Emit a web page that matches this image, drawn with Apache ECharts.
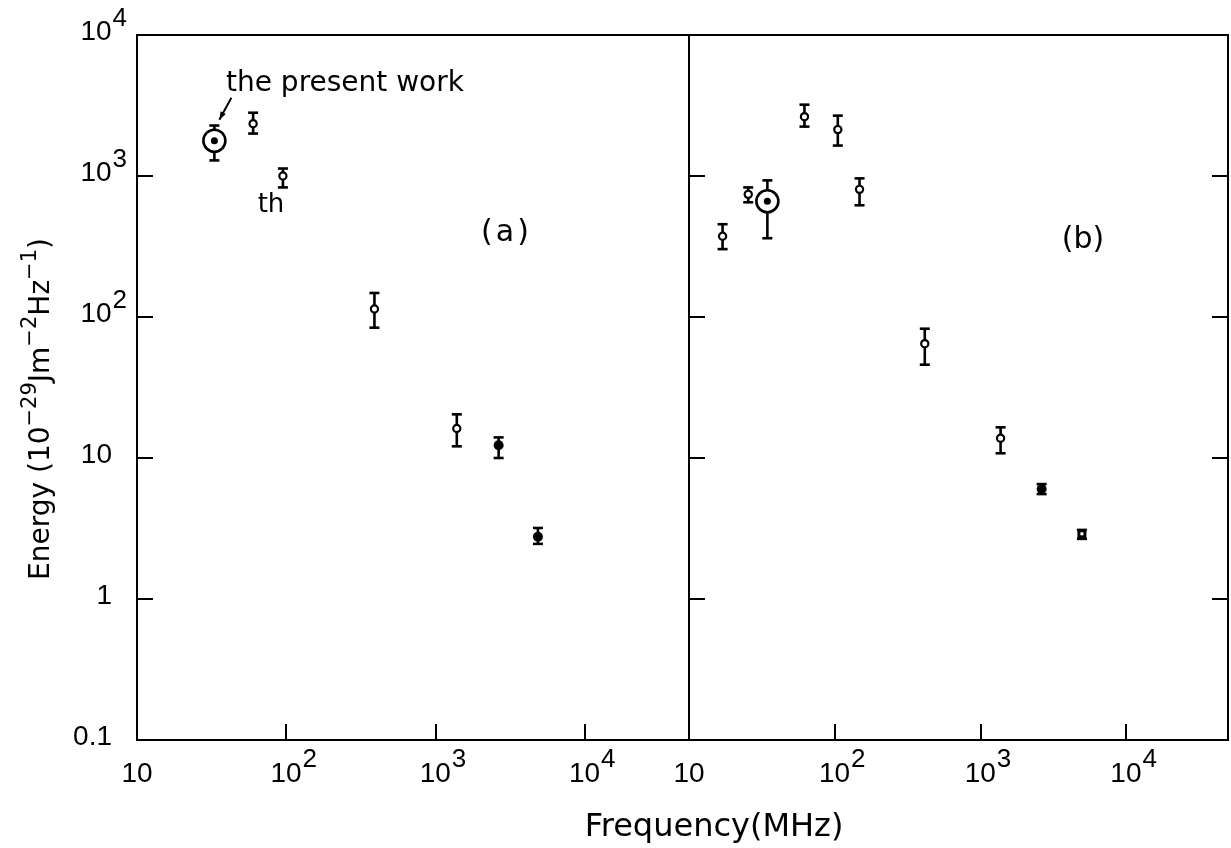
<!DOCTYPE html>
<html>
<head>
<meta charset="utf-8">
<script src="https://cdn.jsdelivr.net/npm/echarts@6/dist/echarts.min.js"></script>
<style>
  html, body { margin: 0; padding: 0; background: #fff; }
  #chart { width: 1231px; height: 848px; }
</style>
</head>
<body>
<div id="chart"></div>
<script>
// Panel (a): frequency (MHz), energy and error limits (10^-29 J m^-2 Hz^-1)
const freqA   = [33, 60, 95, 390, 1390, 2650, 4860];
const energyA = [1780, 2350, 1000, 114, 16.2, 12.3, 2.76];
const upperA  = [2280, 2810, 1130, 148, 20.4, 14.0, 3.19];
const lowerA  = [1290, 2000, 830, 84, 12.1, 10.0, 2.46];
const markA   = ['present', 'open', 'open', 'open', 'open', 'filled', 'filled'];

// Panel (b)
const freqB   = [17, 25.5, 34.5, 62, 105, 148, 415, 1375, 2630, 4970];
const energyB = [374, 741, 662, 2635, 2133, 804, 64.7, 13.8, 6.02, 2.90];
const upperB  = [455, 830, 931, 3205, 2680, 962, 82.6, 16.5, 6.53, 3.09];
const lowerB  = [303, 651, 362, 2240, 1644, 620, 45.9, 10.8, 5.55, 2.67];
const markB   = ['open', 'open', 'present', 'open', 'open', 'open', 'open', 'open', 'filled', 'square'];

// Axis ranges and tick labels
const xRange = [10, 50000];
const yRange = [0.1, 10000];
const xTickText = ['10', '10^2', '10^3', '10^4'];          // 10^1 .. 10^4
const yTickText = ['0.1', '1', '10', '10^2', '10^3', '10^4']; // 10^-1 .. 10^4

const INK = '#000';
const NUM_FONT = 'Liberation Sans';
const TEXT_FONT = 'DejaVu Sans';

// turn "10^3" into rich text with a raised exponent
function richTick(text) {
  if (text.indexOf('^') >= 0) {
    const p = text.split('^');
    return '{b|' + p[0] + '}{s|' + p[1] + '}';
  }
  return '{p|' + text + '}';
}
function decade(v) {
  const e = Math.log10(v);
  const r = Math.round(e);
  return Math.abs(e - r) < 1e-6 ? r : null;
}

const xRich = {
  b: { fontSize: 28, fontFamily: NUM_FONT, color: INK, verticalAlign: 'bottom', padding: [0, 0, 0, 15] },
  s: { fontSize: 26, fontFamily: NUM_FONT, color: INK, verticalAlign: 'bottom', padding: [0, 0, 15, 1] },
  p: { fontSize: 28, fontFamily: NUM_FONT, color: INK, verticalAlign: 'bottom' }
};
const yRich = {
  b: { fontSize: 28, fontFamily: NUM_FONT, color: INK, verticalAlign: 'bottom', padding: [0, 0, 18, 0] },
  s: { fontSize: 26, fontFamily: NUM_FONT, color: INK, verticalAlign: 'bottom', padding: [0, 0, 32, 1] },
  p: { fontSize: 28, fontFamily: NUM_FONT, color: INK, verticalAlign: 'bottom', padding: [0, 15, 6, 0] }
};

function xAxisFor(grid) {
  return {
    type: 'log', logBase: 10, gridIndex: grid, min: xRange[0], max: xRange[1],
    axisLine: { show: false },
    splitLine: { show: false },
    minorTick: { show: false },
    axisTick: { inside: true, length: 16, lineStyle: { color: INK, width: 2 } },
    axisLabel: {
      margin: 48, verticalAlign: 'bottom', showMaxLabel: false, rich: xRich,
      formatter: function (v) {
        const d = decade(v);
        return d === null || d < 1 ? '' : richTick(xTickText[d - 1]);
      }
    }
  };
}
function yAxisFor(grid, side, labels) {
  return {
    type: 'log', logBase: 10, gridIndex: grid, min: yRange[0], max: yRange[1], position: side,
    axisLine: { show: false },
    splitLine: { show: false },
    minorTick: { show: false },
    axisTick: { inside: true, length: 16, lineStyle: { color: INK, width: 2 } },
    axisLabel: {
      show: labels, margin: 10, rich: yRich,
      formatter: function (v) {
        const d = decade(v);
        return d === null ? '' : richTick(yTickText[d + 1]);
      }
    }
  };
}

// error bar with caps plus a marker whose look depends on the data source
function makeRenderer(kinds, withArrow) {
  return function (params, api) {
    const kind = kinds[params.dataIndex];
    const x = api.value(0);
    const c = api.coord([x, api.value(1)]);
    const lo = api.coord([x, api.value(2)]);
    const hi = api.coord([x, api.value(3)]);
    const ink = { stroke: INK, lineWidth: 2.6 };
    const cap = 5;
    const kids = [
      { type: 'line', shape: { x1: c[0], y1: hi[1], x2: c[0], y2: lo[1] }, style: ink },
      { type: 'line', shape: { x1: c[0] - cap, y1: hi[1], x2: c[0] + cap, y2: hi[1] }, style: ink },
      { type: 'line', shape: { x1: c[0] - cap, y1: lo[1], x2: c[0] + cap, y2: lo[1] }, style: ink }
    ];
    if (kind === 'present') {
      kids.push({ type: 'circle', shape: { cx: c[0], cy: c[1], r: 11 }, style: { fill: '#fff', stroke: INK, lineWidth: 2.6 } });
      kids.push({ type: 'circle', shape: { cx: c[0], cy: c[1], r: 3.5 }, style: { fill: INK } });
      if (withArrow) {
        const sx = c[0] + 17, sy = c[1] - 43, ex = c[0] + 5, ey = c[1] - 21;
        const len = Math.hypot(ex - sx, ey - sy);
        const ux = (ex - sx) / len, uy = (ey - sy) / len;
        const px = -uy, py = ux;
        kids.push({ type: 'line', shape: { x1: sx, y1: sy, x2: ex, y2: ey }, style: { stroke: INK, lineWidth: 2 } });
        kids.push({
          type: 'polygon',
          shape: { points: [[ex, ey], [ex - 8 * ux + 3 * px, ey - 8 * uy + 3 * py], [ex - 8 * ux - 3 * px, ey - 8 * uy - 3 * py]] },
          style: { fill: INK }
        });
      }
    } else if (kind === 'open') {
      kids.push({ type: 'circle', shape: { cx: c[0], cy: c[1], r: 3.6 }, style: { fill: '#fff', stroke: INK, lineWidth: 2.2 } });
    } else if (kind === 'filled') {
      kids.push({ type: 'circle', shape: { cx: c[0], cy: c[1], r: 5 }, style: { fill: INK } });
    } else if (kind === 'square') {
      kids.push({ type: 'rect', shape: { x: c[0] - 4.5, y: c[1] - 4.5, width: 9, height: 9 }, style: { fill: INK } });
      kids.push({ type: 'rect', shape: { x: c[0] - 1.5, y: c[1] - 1.5, width: 3, height: 3 }, style: { fill: '#fff' } });
    }
    return { type: 'group', children: kids };
  };
}

function seriesData(f, e, lo, hi) {
  return f.map(function (v, i) { return [v, e[i], lo[i], hi[i]]; });
}

const chart = echarts.init(document.getElementById('chart'), null, { renderer: 'canvas' });
chart.setOption({
  animation: false,
  backgroundColor: '#fff',
  textStyle: { fontFamily: TEXT_FONT, color: INK },
  grid: [
    { left: 137, top: 35, width: 552, height: 705, show: true, borderColor: INK, borderWidth: 2, outerBoundsMode: 'none' },
    { left: 689, top: 35, width: 539, height: 705, show: true, borderColor: INK, borderWidth: 2, outerBoundsMode: 'none' }
  ],
  xAxis: [xAxisFor(0), xAxisFor(1)],
  yAxis: [yAxisFor(0, 'left', true), yAxisFor(1, 'left', false), yAxisFor(1, 'right', false)],
  series: [
    {
      type: 'custom', name: 'a', xAxisIndex: 0, yAxisIndex: 0, silent: true, clip: false,
      encode: { x: 0, y: 1 },
      data: seriesData(freqA, energyA, lowerA, upperA),
      renderItem: makeRenderer(markA, true)
    },
    {
      type: 'custom', name: 'b', xAxisIndex: 1, yAxisIndex: 1, silent: true, clip: false,
      encode: { x: 0, y: 1 },
      data: seriesData(freqB, energyB, lowerB, upperB),
      renderItem: makeRenderer(markB, false)
    }
  ],
  graphic: [
    { type: 'text', x: 226, y: 84, style: { text: 'the present work', fontSize: 28, fontFamily: TEXT_FONT, fill: INK, align: 'left', verticalAlign: 'middle' } },
    { type: 'text', x: 271, y: 205, style: { text: 'th', fontSize: 26, fontFamily: TEXT_FONT, fill: INK, align: 'center', verticalAlign: 'middle' } },
    { type: 'text', x: 505, y: 233, style: { text: '(\u200aa\u200a)', fontSize: 30, fontFamily: TEXT_FONT, fill: INK, align: 'center', verticalAlign: 'middle' } },
    { type: 'text', x: 1083, y: 240, style: { text: '(b)', fontSize: 30, fontFamily: TEXT_FONT, fill: INK, align: 'center', verticalAlign: 'middle' } },
    { type: 'text', x: 714, y: 828, style: { text: 'Frequency(MHz)', fontSize: 32, fontFamily: TEXT_FONT, fill: INK, align: 'center', verticalAlign: 'middle' } },
    {
      type: 'text', x: 38, y: 409, rotation: Math.PI / 2,
      style: {
        text: '{t|Energy (10}{s|\u221229}{t|Jm}{s|\u22122}{t|Hz}{s|\u22121}{t|)}',
        align: 'center', verticalAlign: 'middle',
        rich: {
          t: { fontSize: 28, fontFamily: TEXT_FONT, fill: INK, verticalAlign: 'bottom' },
          s: { fontSize: 21, fontFamily: TEXT_FONT, fill: INK, verticalAlign: 'bottom', padding: [0, 0, 14, 0] }
        }
      }
    }
  ]
});
</script>
</body>
</html>
